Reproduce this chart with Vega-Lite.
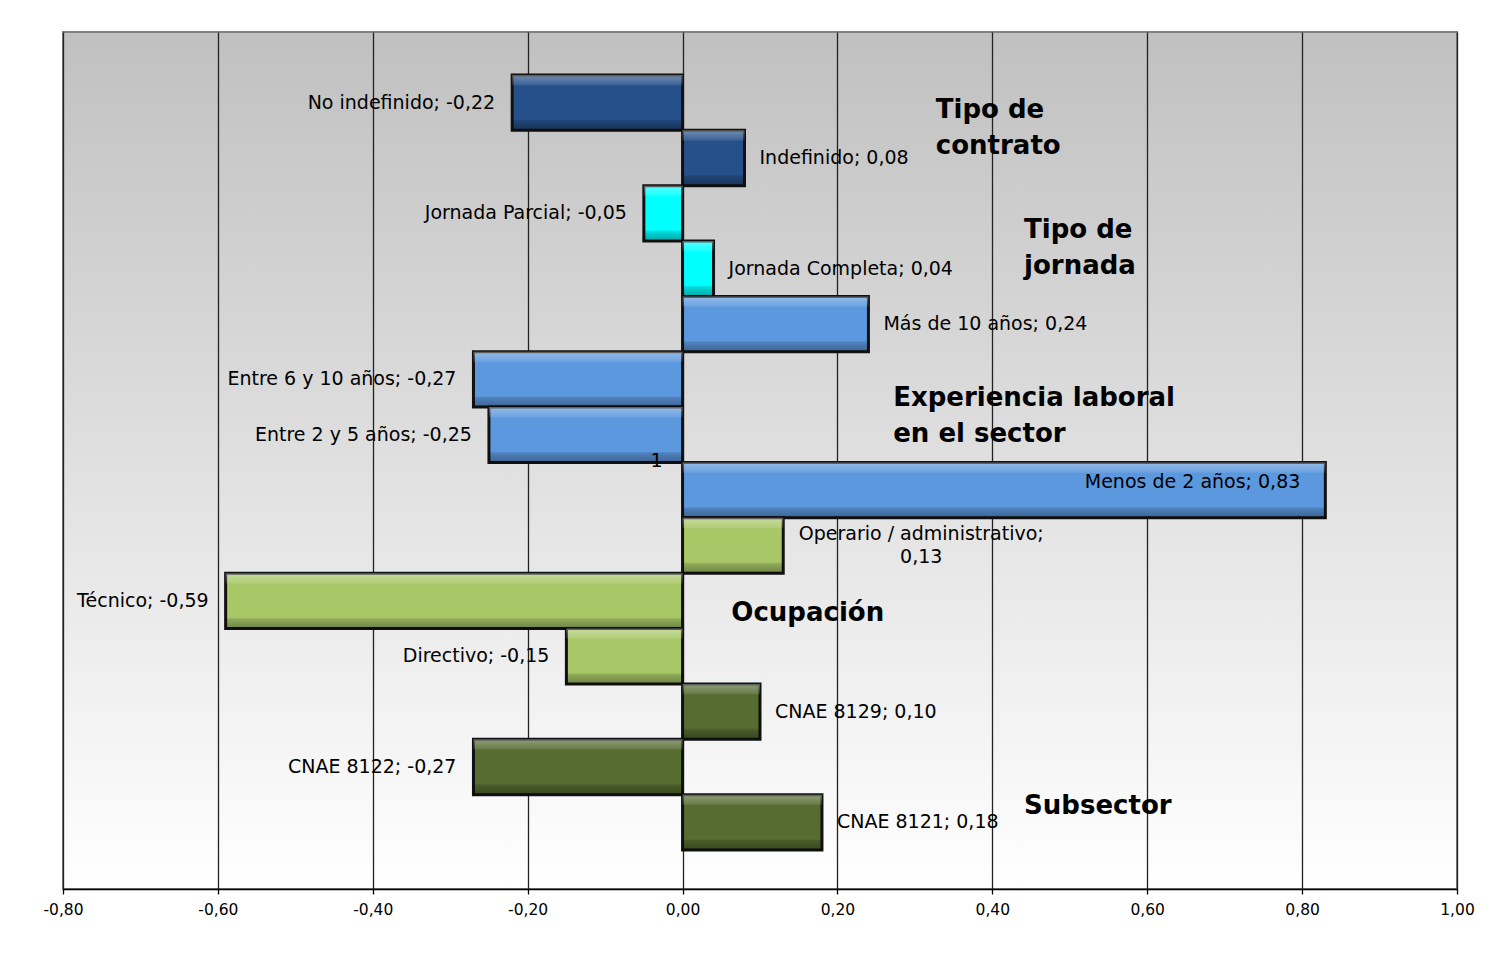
{
  "$schema": "https://vega.github.io/schema/vega-lite/v6.json",
  "width": 1394,
  "height": 857,
  "autosize": "none",
  "padding": {"left": 63, "top": 32, "right": 47, "bottom": 64},
  "background": "white",
  "config": {
    "locale": {"number": {"decimal": ",", "thousands": ".", "grouping": [3], "currency": ["", " €"], "minus": "-"}},
    "view": {
      "stroke": "#808080",
      "strokeWidth": 2,
      "fill": {"gradient": "linear", "x1": 0, "y1": 0, "x2": 0, "y2": 1,
        "stops": [{"offset": 0, "color": "#c0c0c0"}, {"offset": 1, "color": "#ffffff"}]}
    },
    "font": "DejaVu Sans"
  },
  "datasets": {
    "bars": [
      {"cat": "No indefinido", "group": "Tipo de contrato", "value": -0.22, "label": "No indefinido; -0,22"},
      {"cat": "Indefinido", "group": "Tipo de contrato", "value": 0.08, "label": "Indefinido; 0,08"},
      {"cat": "Jornada Parcial", "group": "Tipo de jornada", "value": -0.05, "label": "Jornada Parcial; -0,05"},
      {"cat": "Jornada Completa", "group": "Tipo de jornada", "value": 0.04, "label": "Jornada Completa; 0,04"},
      {"cat": "Más de 10 años", "group": "Experiencia laboral en el sector", "value": 0.24, "label": "Más de 10 años; 0,24"},
      {"cat": "Entre 6 y 10 años", "group": "Experiencia laboral en el sector", "value": -0.27, "label": "Entre 6 y 10 años; -0,27"},
      {"cat": "Entre 2 y 5 años", "group": "Experiencia laboral en el sector", "value": -0.25, "label": "Entre 2 y 5 años; -0,25"},
      {"cat": "Menos de 2 años", "group": "Experiencia laboral en el sector", "value": 0.83, "label": "Menos de 2 años; 0,83"},
      {"cat": "Operario / administrativo", "group": "Ocupación", "value": 0.13, "label": "Operario / administrativo;\n0,13"},
      {"cat": "Técnico", "group": "Ocupación", "value": -0.59, "label": "Técnico; -0,59"},
      {"cat": "Directivo", "group": "Ocupación", "value": -0.15, "label": "Directivo; -0,15"},
      {"cat": "CNAE 8129", "group": "Subsector", "value": 0.10, "label": "CNAE 8129; 0,10"},
      {"cat": "CNAE 8122", "group": "Subsector", "value": -0.27, "label": "CNAE 8122; -0,27"},
      {"cat": "CNAE 8121", "group": "Subsector", "value": 0.18, "label": "CNAE 8121; 0,18"}
    ],
    "notes": [
      {"note": "Tipo de\ncontrato", "anchor": "Indefinido", "x": 0.327},
      {"note": "Tipo de\njornada", "anchor": "Jornada Completa", "x": 0.441},
      {"note": "Experiencia laboral\nen el sector", "anchor": "Entre 2 y 5 años", "x": 0.272},
      {"note": "Ocupación", "anchor": "Técnico", "x": 0.063},
      {"note": "Subsector", "anchor": "CNAE 8121", "x": 0.441}
    ]
  },
  "layer": [
    {
      "data": {"name": "bars"},
      "mark": {"type": "bar", "stroke": "#111111", "strokeWidth": 3},
      "encoding": {
        "y": {"field": "cat", "type": "nominal", "sort": null, "axis": null,
          "scale": {"domain": ["No indefinido", "Indefinido", "Jornada Parcial", "Jornada Completa", "Más de 10 años", "Entre 6 y 10 años", "Entre 2 y 5 años", "Menos de 2 años", "Operario / administrativo", "Técnico", "Directivo", "CNAE 8129", "CNAE 8122", "CNAE 8121"],
            "paddingInner": 0, "paddingOuter": 0.74, "align": 0.524}},
        "x": {"field": "value", "type": "quantitative",
          "scale": {"domain": [-0.8, 1.0], "nice": false, "zero": false},
          "axis": {"values": [-0.8, -0.6, -0.4, -0.2, 0, 0.2, 0.4, 0.6, 0.8, 1.0], "format": ".2f", "title": null,
            "grid": true, "gridColor": "#222222", "gridWidth": 1.3,
            "domainColor": "#000000", "domainWidth": 1.5, "tickColor": "#000000", "tickSize": 5, "tickWidth": 1.3,
            "labelFlush": false, "labelOverlap": false,
            "labelFont": "DejaVu Sans", "labelFontSize": 15.5, "labelColor": "#000000", "labelPadding": 8}},
        "color": {"field": "group", "type": "nominal", "legend": null,
          "scale": {"domain": ["Tipo de contrato", "Tipo de jornada", "Experiencia laboral en el sector", "Ocupación", "Subsector"],
            "range": ["#25508a", "#00ffff", "#5c98de", "#a8c868", "#566c30"]}}
      }
    },
    {
      "data": {"name": "bars"},
      "mark": {"type": "bar", "strokeWidth": 0,
        "fill": {"gradient": "linear", "x1": 0, "y1": 0, "x2": 0, "y2": 1,
          "stops": [
            {"offset": 0, "color": "rgba(255,255,255,0.35)"},
            {"offset": 0.17, "color": "rgba(255,255,255,0.12)"},
            {"offset": 0.2, "color": "rgba(255,255,255,0)"},
            {"offset": 0.8, "color": "rgba(0,0,0,0)"},
            {"offset": 0.83, "color": "rgba(0,0,0,0.15)"},
            {"offset": 1, "color": "rgba(0,0,0,0.35)"}
          ]}},
      "encoding": {
        "y": {"field": "cat", "type": "nominal", "sort": null},
        "x": {"field": "value", "type": "quantitative"}
      }
    },
    {
      "data": {"name": "bars"},
      "transform": [{"filter": "datum.value > 0 && datum.value < 0.5 && datum.cat != 'Operario / administrativo'"}],
      "mark": {"type": "text", "align": "left", "baseline": "middle", "dx": 15, "fontSize": 19, "color": "#000000"},
      "encoding": {
        "y": {"field": "cat", "type": "nominal", "sort": null},
        "x": {"field": "value", "type": "quantitative"},
        "text": {"field": "label", "type": "nominal"}
      }
    },
    {
      "data": {"name": "bars"},
      "transform": [{"filter": "datum.value < 0"}],
      "mark": {"type": "text", "align": "right", "baseline": "middle", "dx": -17, "fontSize": 19, "color": "#000000"},
      "encoding": {
        "y": {"field": "cat", "type": "nominal", "sort": null},
        "x": {"field": "value", "type": "quantitative"},
        "text": {"field": "label", "type": "nominal"}
      }
    },
    {
      "data": {"name": "bars"},
      "transform": [{"filter": "datum.value >= 0.5"}],
      "mark": {"type": "text", "align": "right", "baseline": "middle", "dx": -25, "dy": -8, "fontSize": 19, "color": "#000000"},
      "encoding": {
        "y": {"field": "cat", "type": "nominal", "sort": null},
        "x": {"field": "value", "type": "quantitative"},
        "text": {"field": "label", "type": "nominal"}
      }
    },
    {
      "data": {"name": "bars"},
      "transform": [{"filter": "datum.cat == 'Operario / administrativo'"}],
      "mark": {"type": "text", "align": "center", "baseline": "middle", "dx": 138, "dy": -12, "fontSize": 19, "lineBreak": "\n", "lineHeight": 23, "color": "#000000"},
      "encoding": {
        "y": {"field": "cat", "type": "nominal", "sort": null},
        "x": {"field": "value", "type": "quantitative"},
        "text": {"field": "label", "type": "nominal"}
      }
    },
    {
      "data": {"values": [{"value": 0, "label": "1"}]},
      "mark": {"type": "text", "align": "center", "baseline": "middle", "dx": -26, "fontSize": 19, "color": "#000000"},
      "encoding": {
        "x": {"field": "value", "type": "quantitative"},
        "text": {"field": "label", "type": "nominal"}
      }
    },
    {
      "data": {"name": "notes"},
      "transform": [{"filter": "datum.anchor == 'Indefinido'"}],
      "mark": {"type": "text", "align": "left", "baseline": "middle", "dy": -48, "fontSize": 26, "fontWeight": "bold", "lineBreak": "\n", "lineHeight": 36, "color": "#000000"},
      "encoding": {
        "y": {"field": "anchor", "type": "nominal", "sort": null},
        "x": {"field": "x", "type": "quantitative"},
        "text": {"field": "note", "type": "nominal"}
      }
    },
    {
      "data": {"name": "notes"},
      "transform": [{"filter": "datum.anchor == 'Jornada Completa'"}],
      "mark": {"type": "text", "align": "left", "baseline": "middle", "dy": -39, "fontSize": 26, "fontWeight": "bold", "lineBreak": "\n", "lineHeight": 36, "color": "#000000"},
      "encoding": {
        "y": {"field": "anchor", "type": "nominal", "sort": null},
        "x": {"field": "x", "type": "quantitative"},
        "text": {"field": "note", "type": "nominal"}
      }
    },
    {
      "data": {"name": "notes"},
      "transform": [{"filter": "datum.anchor == 'Entre 2 y 5 años'"}],
      "mark": {"type": "text", "align": "left", "baseline": "middle", "dy": -37, "fontSize": 26, "fontWeight": "bold", "lineBreak": "\n", "lineHeight": 36, "color": "#000000"},
      "encoding": {
        "y": {"field": "anchor", "type": "nominal", "sort": null},
        "x": {"field": "x", "type": "quantitative"},
        "text": {"field": "note", "type": "nominal"}
      }
    },
    {
      "data": {"name": "notes"},
      "transform": [{"filter": "datum.anchor == 'Técnico'"}],
      "mark": {"type": "text", "align": "left", "baseline": "middle", "dy": 12, "fontSize": 26, "fontWeight": "bold", "color": "#000000"},
      "encoding": {
        "y": {"field": "anchor", "type": "nominal", "sort": null},
        "x": {"field": "x", "type": "quantitative"},
        "text": {"field": "note", "type": "nominal"}
      }
    },
    {
      "data": {"name": "notes"},
      "transform": [{"filter": "datum.anchor == 'CNAE 8121'"}],
      "mark": {"type": "text", "align": "left", "baseline": "middle", "dy": -16, "fontSize": 26, "fontWeight": "bold", "color": "#000000"},
      "encoding": {
        "y": {"field": "anchor", "type": "nominal", "sort": null},
        "x": {"field": "x", "type": "quantitative"},
        "text": {"field": "note", "type": "nominal"}
      }
    }
  ]
}
